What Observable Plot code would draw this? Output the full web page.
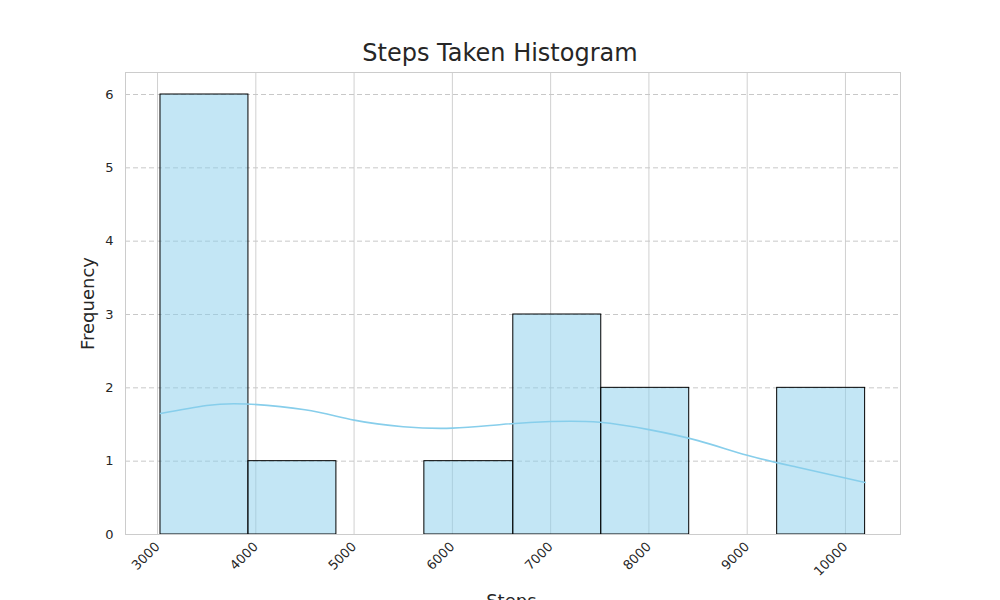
<!DOCTYPE html>
<html><head>
<script src="https://cdn.jsdelivr.net/npm/d3@7"></script>
<script src="https://cdn.jsdelivr.net/npm/@observablehq/plot@0.6"></script>
<style>
body{margin:0;background:#fff;font-family:"DejaVu Sans",sans-serif;}
#t{height:70px;box-sizing:border-box;padding-top:38px;text-align:center;font-size:24px;color:#262626;line-height:30px;}
</style></head><body>
<div id="t">Steps Taken Histogram</div>
<div id="c"></div>
<script>
const binEdges=[3030,3925,4820,5715,6620,7515,8410,9305,10200];
const counts=[6,1,0,1,3,2,0,2];
const kdeX=[3030,3500,3900,4500,5000,5500,6000,6500,7000,7500,8000,8500,9000,9500,10200];
const kdeY=[1.65,1.76,1.78,1.70,1.56,1.47,1.45,1.50,1.54,1.53,1.43,1.28,1.08,0.92,0.71];
const xTicks=[3000,4000,5000,6000,7000,8000,9000,10000];
const yTicks=[0,1,2,3,4,5,6];
const bars=counts.map((c,i)=>({x1:binEdges[i],x2:binEdges[i+1],y:c})).filter(d=>d.y>0);
const kde=kdeX.map((x,i)=>({x,y:kdeY[i]}));
const p=Plot.plot({
 width:1000,height:530,marginLeft:125,marginRight:100,marginTop:2,marginBottom:66,
 style:{fontFamily:"DejaVu Sans",fontSize:"12px",color:"#262626"},
 x:{domain:[2674,10560],ticks:xTicks},
 y:{domain:[0,6.3],ticks:yTicks},
 marks:[
  Plot.ruleX(xTicks,{stroke:"#d0d0d0",strokeWidth:1}),
  Plot.ruleY(yTicks.slice(1),{stroke:"#c8c8c8",strokeDasharray:"5,3"}),
  Plot.rectY(bars,{x1:"x1",x2:"x2",y:"y",fill:"#87ceeb",fillOpacity:0.5,stroke:"black",strokeWidth:1}),
  Plot.line(kde,{x:"x",y:"y",stroke:"#87ceeb",strokeWidth:1.6,curve:"natural"}),
  Plot.frame({stroke:"#cccccc"}),
  Plot.axisX({ticks:xTicks,tickSize:0,tickRotate:-45,tickPadding:10,label:null,tickFormat:d=>String(d),fontSize:13}),
  Plot.axisY({ticks:yTicks,tickSize:0,tickPadding:12,label:null,tickFormat:d=>String(d),fontSize:13}),
  Plot.text(["Frequency"],{frameAnchor:"left",textAnchor:"middle",dx:-37,rotate:-90,fontSize:18,fill:"#262626"}),
  Plot.text(["Steps"],{frameAnchor:"bottom",dy:72,fontSize:18,fill:"#262626",x:6600})
 ]
});
document.getElementById("c").appendChild(p);
</script></body></html>
